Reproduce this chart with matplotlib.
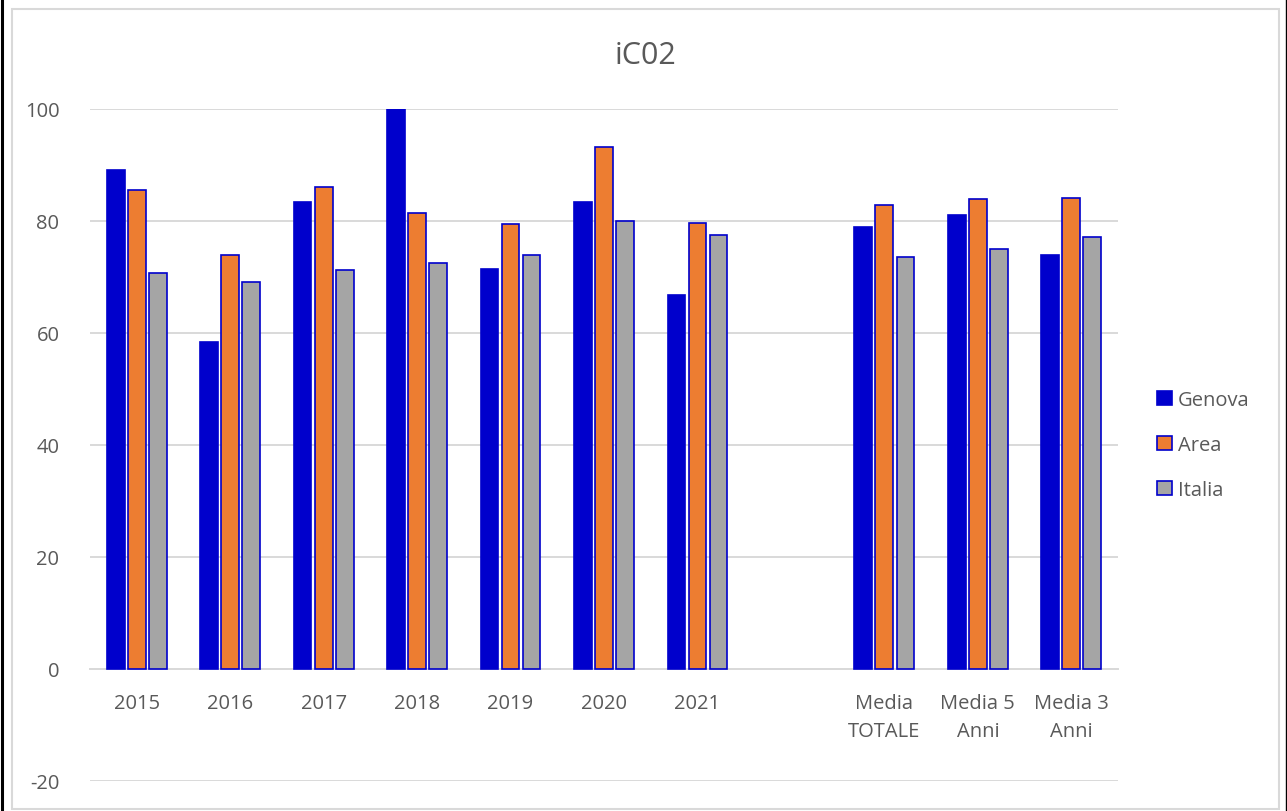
import numpy as np
import matplotlib
matplotlib.use("Agg")
import matplotlib.pyplot as plt
from matplotlib.patches import Rectangle
from matplotlib.lines import Line2D

plt.rcParams['font.family'] = ['Open Sans', 'DejaVu Sans']

title = "iC02"
categories = ["2015", "2016", "2017", "2018", "2019", "2020", "2021", "",
              "Media\nTOTALE", "Media 5\nAnni", "Media 3\nAnni"]
series_names = ["Genova", "Area", "Italia"]
genova = [89.0, 58.33, 83.33, 100.0, 71.43, 83.33, 66.67, None, 78.9, 81.0, 73.8]
area = [85.5, 73.8, 86.0, 81.4, 79.4, 93.2, 79.6, None, 82.7, 83.9, 84.0]
italia = [70.7, 69.1, 71.1, 72.5, 73.9, 79.9, 77.4, None, 73.5, 75.0, 77.0]
yticks = [-20, 0, 20, 40, 60, 80, 100]

colors = ["#0000CC", "#ED7D31", "#A5A5A5"]
edge = "#0000CC"
text_color = "#595959"
grid_color = "#D9D9D9"

W, H = 1287, 812
fig = plt.figure(figsize=(W / 100, H / 100), dpi=100)
fig.patch.set_facecolor("white")

# outer frame lines
fig.add_artist(Rectangle((12 / W, 1 - 810 / H), (1279 - 12) / W, 800 / H,
                         transform=fig.transFigure, fill=False,
                         edgecolor=grid_color, lw=1.5))
fig.add_artist(Line2D([1.5 / W, 1.5 / W], [0, 1], transform=fig.transFigure,
                      color="black", lw=2.2))
fig.add_artist(Line2D([1 - 1 / W, 1 - 1 / W], [0, 1], transform=fig.transFigure,
                      color="black", lw=1.0))

left, right = 90 / W, 1118 / W
top, bottom = 1 - 109.5 / H, 1 - 782 / H
ax = fig.add_axes([left, bottom, right - left, top - bottom])

x = np.arange(len(categories))
pitch = 0.225
width = 0.19
data = [genova, area, italia]
for i, (name, vals, col) in enumerate(zip(series_names, data, colors)):
    v = np.array([np.nan if a is None else a for a in vals], dtype=float)
    ax.bar(x + (i - 1) * pitch, v, width=width, color=col, edgecolor=edge,
           linewidth=1.2, label=name, zorder=3)

ax.set_xlim(-0.5, len(categories) - 0.5)
ax.set_ylim(-20, 100)
ax.set_yticks(yticks)
ax.set_yticklabels([str(t) for t in yticks])
ax.yaxis.grid(True, color=grid_color, lw=1.4, zorder=0)
ax.set_axisbelow(True)
for s in ax.spines.values():
    s.set_visible(False)
ax.spines['bottom'].set_visible(True)
ax.spines['bottom'].set_position(('data', 0))
ax.spines['bottom'].set_color(grid_color)
ax.spines['bottom'].set_linewidth(1.4)
ax.set_xticks(x)
ax.set_xticklabels(categories, linespacing=1.55)
ax.tick_params(axis='both', length=0, labelsize=14.5, labelcolor=text_color)
ax.tick_params(axis='x', pad=17)
ax.tick_params(axis='y', pad=22)

fig.text(646 / W, 1 - 56 / H, title, ha="center", va="center",
         fontsize=22, color=text_color)

leg = ax.legend(loc="center left", bbox_to_anchor=(1157 / W, 1 - 446 / H),
                bbox_transform=fig.transFigure, frameon=False,
                fontsize=14.5, handlelength=0.72, handleheight=0.72,
                handletextpad=0.3, labelspacing=1.25, borderaxespad=0,
                borderpad=0)
for t in leg.get_texts():
    t.set_color(text_color)

fig.savefig("out.png", dpi=100, facecolor="white")
